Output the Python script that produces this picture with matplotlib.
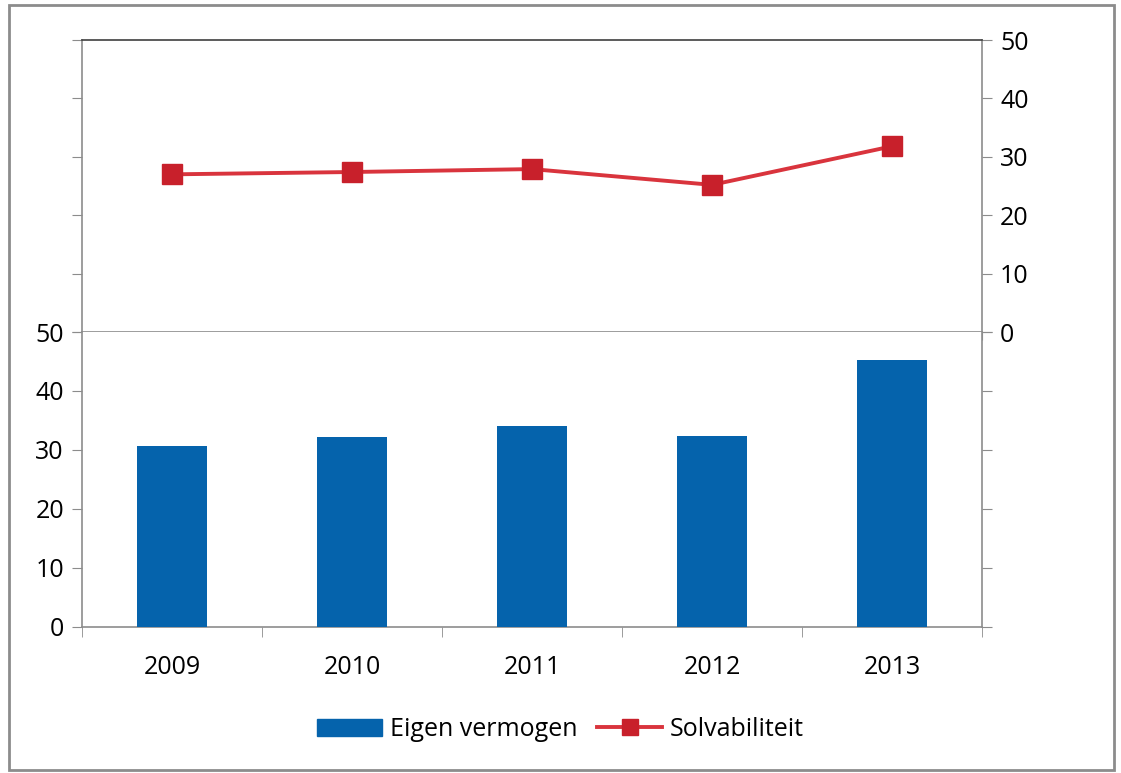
import matplotlib.pyplot as plt
from matplotlib.patches import Rectangle
from matplotlib.lines import Line2D
import numpy as np

plt.rcParams['font.family'] = ['Open Sans', 'DejaVu Sans']

jaren = ["2009", "2010", "2011", "2012", "2013"]
eigen_vermogen = [30.7, 32.2, 34.1, 32.4, 45.3]
solvabiliteit = [27.0, 27.4, 27.9, 25.2, 31.8]

blauw = "#0563AC"
rood = "#C8202B"
grijs = "#8C8C8C"
fs = 18

fig = plt.figure(figsize=(11.21, 7.73), dpi=100)
x = np.arange(len(jaren))

# bovenste paneel: lijn op rechter as
ax_top = fig.add_axes([0.0731, 0.5705, 0.8029, 0.3777])
ax_top.plot(x, solvabiliteit, color="#D9343D", lw=2.8, marker="s", ms=15,
            mfc=rood, mec=rood, zorder=3)
ax_top.set_xlim(-0.5, 4.5)
ax_top.set_ylim(0, 50)
ax_top.set_yticks(range(0, 51, 10))
ax_top.tick_params(axis="y", which="both", left=True, right=True,
                   labelleft=False, labelright=True, direction="out",
                   length=7, color=grijs, labelsize=fs, pad=6)
ax_top.set_xticks(np.arange(-0.5, 4.6, 1))
ax_top.tick_params(axis="x", bottom=True, labelbottom=False, direction="out",
                   length=6, color=grijs)
for s in ["left", "right", "bottom"]:
    ax_top.spines[s].set_color(grijs)
    ax_top.spines[s].set_linewidth(1.2)
ax_top.spines["top"].set_color("#404040")
ax_top.spines["top"].set_linewidth(1.2)

# onderste paneel: staven op linker as
ax_bot = fig.add_axes([0.0731, 0.1889, 0.8029, 0.3816])
ax_bot.bar(x, eigen_vermogen, width=0.39, color=blauw, zorder=3)
ax_bot.set_xlim(-0.5, 4.5)
ax_bot.set_ylim(0, 50)
ax_bot.set_yticks(range(0, 51, 10))
ax_bot.tick_params(axis="y", left=True, right=True, labelleft=True,
                   labelright=False, direction="out", length=7, color=grijs,
                   labelsize=fs, pad=6)
ax_bot.set_xticks(x)
ax_bot.set_xticklabels(jaren)
ax_bot.set_xticks(np.arange(-0.5, 4.6, 1), minor=True)
ax_bot.tick_params(axis="x", which="major", length=0, labelsize=fs, pad=20)
ax_bot.tick_params(axis="x", which="minor", length=7, color=grijs,
                   direction="out")
ax_bot.spines["top"].set_visible(False)
for s in ["left", "right", "bottom"]:
    ax_bot.spines[s].set_color(grijs)
    ax_bot.spines[s].set_linewidth(1.2)

handles = [Rectangle((0, 0), 1, 1, color=blauw),
           Line2D([], [], color="#D9343D", lw=2.8, marker="s", ms=12,
                  mfc=rood, mec=rood)]
fig.legend(handles, ["Eigen vermogen", "Solvabiliteit"], loc="center",
           bbox_to_anchor=(0.5, 0.056), ncol=2, frameon=False, fontsize=fs,
           handlelength=2.6, handletextpad=0.3, columnspacing=0.8)

fig.patches.append(Rectangle((0.008, 0.004), 0.986, 0.99, transform=fig.transFigure,
                             fill=False, edgecolor=grijs, lw=2))

fig.savefig("out.png", dpi=100)
